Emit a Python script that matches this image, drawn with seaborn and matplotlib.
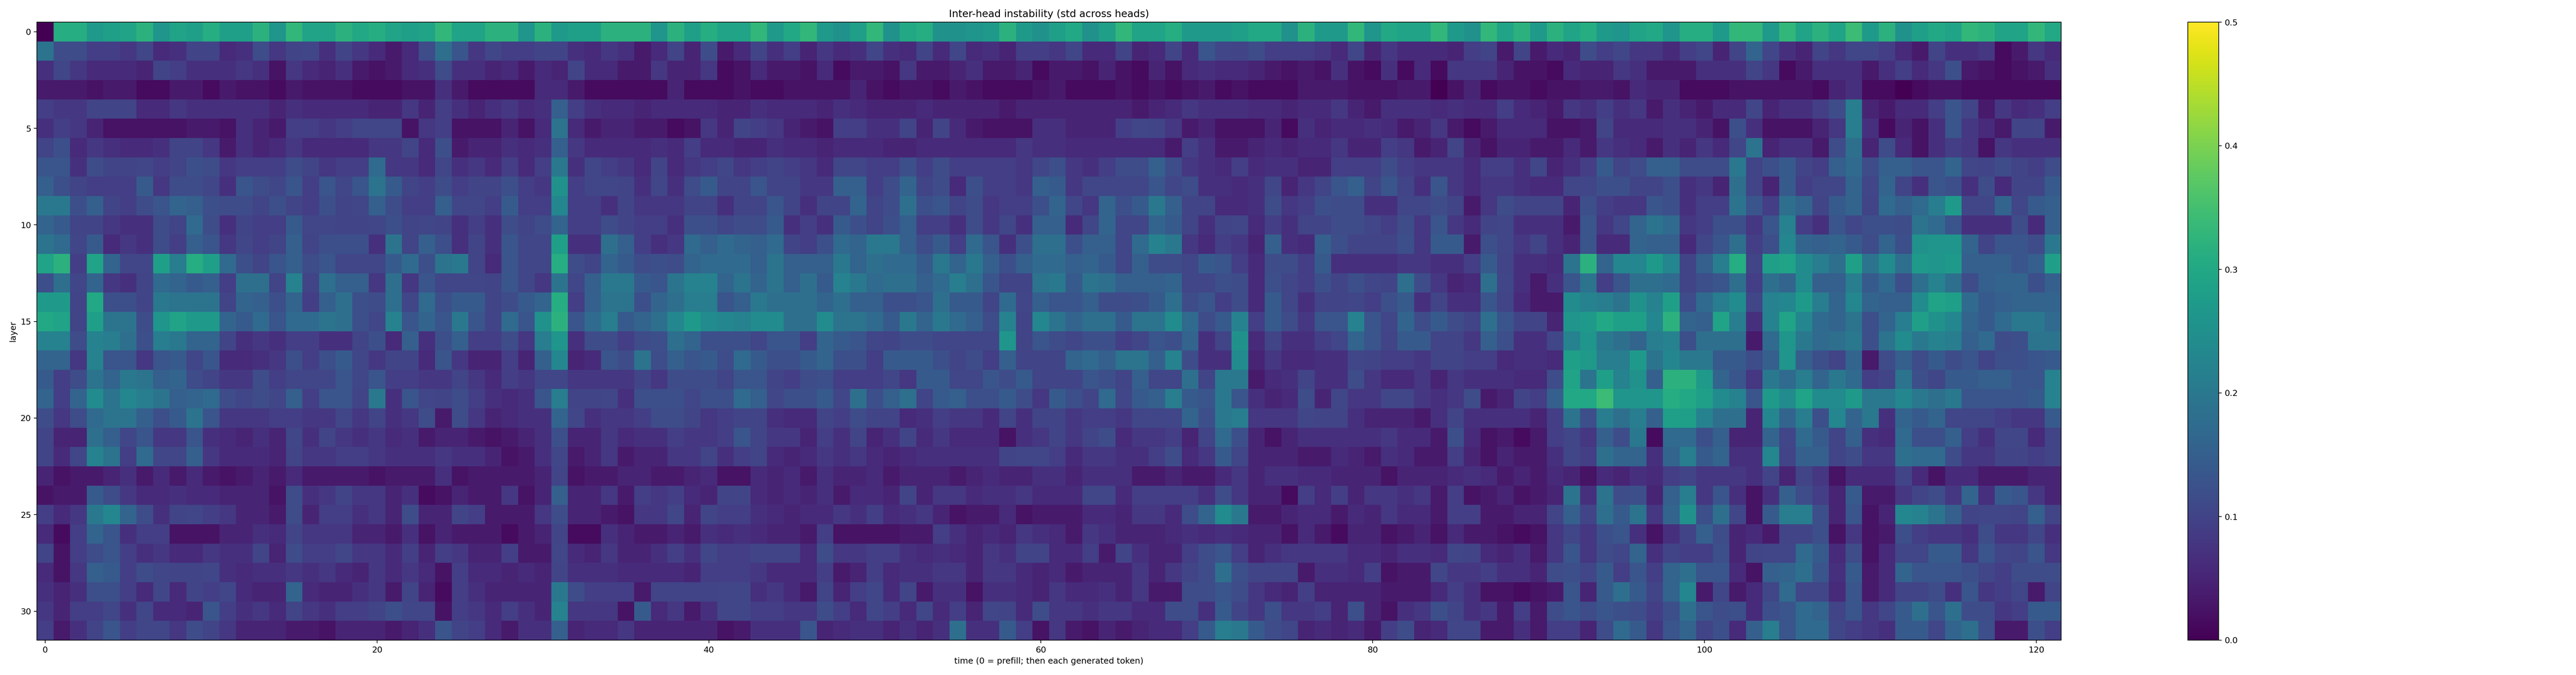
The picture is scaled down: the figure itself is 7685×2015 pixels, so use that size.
import numpy as np
import pandas as pd
import matplotlib
matplotlib.use("Agg")
import matplotlib.pyplot as plt
import seaborn as sns

# inter-head std per layer and time as colour levels
layer_00 = [0,31,31,27,28,29,32,26,29,28,31,28,28,32,26,33,29,29,32,30,31,29,28,29,33,29,29,32,32,26,32,27,28,28,32,32,32,26,32,28,31, 29,29,33,27,30,33,27,25,28,33,25,30,31,25,25,26,27,32,27,25,28,30,25,28,33,29,29,31,27,27,27,28,30,30,25,32,27,27,33,26,30, 29,29,33,27,25,33,29,32,27,32,29,31,27,26,29,30,26,31,31,27,33,33,27,33,29,32,29,34,27,32,25,28,30,29,33,32,29,29,33,30]
layer_01 = [19,11,11,8,8,7,10,5,6,9,9,5,6,11,7,9,10,6,9,7,5,3,5,11,18,13,7,10,8,8,9,9,6,5,7,6,3,5,9,4,11, 3,5,9,6,8,4,7,5,6,10,6,5,9,5,10,5,6,4,8,8,7,10,5,5,9,4,5,9,5,13,10,9,11,8,8,8,7,5,10,4,7, 5,5,5,4,8,9,3,9,3,5,4,11,8,10,7,7,5,8,10,4,9,16,10,6,4,9,7,10,10,8,5,3,9,6,6,7,1,3,7,5]
layer_02 = [6,10,7,5,5,5,4,9,8,6,6,6,7,6,2,7,5,4,6,3,2,3,5,6,11,6,6,4,5,3,5,4,9,5,5,3,3,7,4,4,7, 1,2,5,3,3,2,5,1,3,3,2,7,3,3,4,6,3,3,4,1,3,3,2,4,2,1,4,2,5,6,5,5,4,3,2,3,2,6,2,1,6, 1,5,1,7,7,7,4,2,2,1,5,4,4,7,6,3,3,3,6,6,6,9,7,1,3,6,6,6,3,6,8,5,7,12,3,2,1,2,3,6]
layer_03 = [3,3,3,2,3,3,1,1,3,3,1,3,2,2,1,3,2,2,2,1,1,1,2,2,6,3,1,1,1,1,5,5,3,1,1,1,1,1,4,1,1, 1,2,1,1,2,2,2,2,4,2,1,2,2,1,3,2,1,1,1,2,3,1,1,1,2,1,2,1,2,3,1,2,1,1,1,3,3,3,2,2,2, 3,3,0,2,4,1,2,2,1,2,2,3,3,2,5,4,4,1,1,1,2,2,2,2,2,1,4,6,1,1,0,1,2,2,1,1,1,1,1,1]
layer_04 = [8,7,7,9,9,9,5,5,7,6,6,6,6,6,4,6,5,5,5,5,4,4,7,4,8,6,4,6,7,5,6,15,8,6,5,5,4,5,5,5,5, 4,4,6,5,5,5,4,6,5,4,4,4,5,4,4,4,4,3,4,4,4,4,4,4,4,3,4,5,7,6,6,6,5,5,4,5,5,7,4,3,6, 6,6,5,6,5,5,8,5,4,3,7,6,8,6,7,3,6,4,3,5,5,10,4,6,6,8,11,21,4,3,5,5,8,13,9,3,7,5,6,8]
layer_05 = [6,8,7,4,2,2,2,2,2,3,3,2,6,4,3,8,8,7,8,10,10,10,2,7,8,2,2,2,4,2,5,19,5,3,4,4,3,3,1,2,7, 4,9,8,7,4,3,2,8,8,6,6,9,4,9,5,3,2,2,2,6,6,4,4,4,8,10,9,7,3,4,2,2,2,4,1,6,4,5,5,6,5, 3,4,7,3,1,3,5,5,5,2,2,3,9,5,5,5,6,6,4,2,12,6,2,2,2,4,7,21,6,1,4,2,6,13,7,5,3,9,9,3]
layer_06 = [9,12,5,7,6,5,5,6,9,9,7,3,6,4,5,7,5,5,5,5,7,7,9,5,12,3,4,4,6,5,6,15,7,5,5,5,5,6,5,8,5, 5,4,4,6,5,5,4,5,5,5,4,4,5,5,5,5,5,5,7,6,6,5,5,5,5,5,5,3,8,6,3,3,4,5,4,5,5,7,4,4,8, 7,3,4,9,4,2,4,4,3,3,5,3,7,6,5,3,6,4,7,5,10,19,4,6,6,3,11,18,4,11,5,2,6,8,7,2,7,6,6,6]
layer_07 = [13,13,6,11,9,9,10,8,9,12,11,7,8,8,8,11,9,7,8,8,17,7,7,5,10,6,7,5,8,5,8,20,6,10,8,7,5,9,5,7,8, 10,7,8,9,8,7,5,10,10,8,8,12,8,11,8,8,8,8,7,10,12,7,6,8,11,11,15,11,7,6,5,8,5,6,6,4,4,8,8,8,11, 8,7,7,7,5,8,8,6,10,4,6,8,14,9,11,15,15,11,11,11,20,9,12,14,9,8,15,17,11,15,15,13,13,16,10,9,11,9,8,11]
layer_08 = [15,12,9,8,8,8,14,7,11,11,10,6,13,11,10,13,8,13,10,13,19,14,9,8,11,8,9,9,12,8,7,25,8,10,10,9,6,10,6,11,14, 9,9,13,9,9,7,7,15,15,8,11,16,9,11,5,12,8,8,7,15,14,7,10,10,10,10,13,10,11,6,6,5,6,10,4,7,9,13,15,9,13, 9,6,13,7,5,7,7,6,5,5,10,10,12,12,9,9,12,6,7,4,18,9,4,14,8,10,10,16,10,16,9,6,13,12,6,11,5,9,9,14]
layer_09 = [20,20,12,15,9,8,11,13,16,15,12,11,11,9,12,9,8,12,9,10,15,11,8,8,15,10,10,8,14,8,8,23,8,8,6,9,7,7,7,9,9, 6,9,9,13,9,6,9,9,16,9,11,18,12,13,9,11,7,8,8,12,16,10,7,16,12,14,20,15,9,9,5,5,6,11,7,8,12,11,11,6,6, 10,10,11,9,3,7,11,9,9,9,4,12,8,7,7,13,12,6,8,8,19,13,8,18,16,9,14,16,9,17,15,17,21,27,10,10,16,10,14,15]
layer_10 = [16,14,9,9,7,6,6,11,9,17,11,6,9,8,8,14,10,10,9,9,10,12,9,10,9,6,8,6,11,9,11,16,8,8,11,9,8,8,6,12,12, 10,11,11,14,6,8,6,14,12,9,12,15,8,8,6,11,7,10,6,15,15,5,10,16,10,10,16,14,9,6,9,10,5,8,6,9,9,11,11,10,8, 11,7,13,7,5,9,10,6,6,6,3,13,7,10,16,19,17,7,8,12,12,7,13,22,8,6,13,10,12,12,11,19,17,13,6,6,6,11,5,15]
layer_11 = [19,17,10,14,5,7,6,11,8,15,13,7,10,8,9,15,9,12,12,12,6,19,9,15,12,6,9,6,13,10,10,28,6,6,18,15,8,6,7,17,15, 17,16,15,17,9,8,12,17,16,20,20,15,11,14,8,17,13,6,12,18,18,12,15,15,10,17,22,20,7,5,8,7,4,15,6,5,15,12,9,9,9, 12,7,14,14,3,12,10,7,9,6,4,13,5,5,16,15,15,5,10,13,18,8,12,23,16,15,16,14,11,16,12,25,26,26,16,9,13,13,11,20]
layer_12 = [29,32,8,29,16,10,10,28,21,31,28,17,12,9,13,15,11,13,10,10,10,14,17,12,19,20,9,5,13,10,10,31,11,9,16,14,11,12,11,16,17, 17,17,15,19,15,15,15,20,16,18,17,17,14,20,16,20,15,12,15,17,17,15,16,14,10,15,11,11,10,14,13,8,5,11,11,8,14,6,6,6,6, 7,7,6,6,8,14,9,6,6,5,19,32,16,23,23,27,23,9,15,21,31,9,28,29,24,21,18,28,19,24,18,27,26,27,15,15,15,13,15,28]
layer_13 = [12,18,10,16,7,6,9,17,16,14,15,8,18,18,9,22,9,18,15,15,7,18,7,13,10,10,10,9,13,10,7,19,10,15,20,20,14,13,19,22,22, 16,19,16,19,15,18,14,22,20,17,18,18,15,17,21,18,13,9,9,19,20,14,19,18,15,15,15,16,10,10,12,11,5,12,10,8,12,9,12,10,9, 18,11,7,4,5,18,10,6,3,6,13,19,8,13,18,18,17,9,12,13,18,8,18,16,24,15,15,21,14,17,12,18,22,18,11,15,16,16,12,15]
layer_14 = [27,27,9,30,12,12,9,20,19,19,19,9,16,15,12,16,8,15,18,12,11,18,10,17,12,14,14,9,11,14,16,31,8,15,19,19,12,16,18,21,21, 13,15,20,18,18,18,16,18,15,15,12,12,13,18,14,14,9,17,10,15,13,13,15,11,11,12,14,18,11,13,8,11,5,14,10,6,9,9,10,8,12, 14,6,9,6,6,13,9,5,3,3,24,22,21,19,25,22,28,11,17,21,24,10,22,23,27,21,16,23,16,15,15,24,29,28,17,14,15,16,16,16]
layer_15 = [30,29,9,28,19,19,11,26,29,27,27,16,14,17,13,17,17,19,18,12,10,22,13,16,13,20,13,9,17,13,25,32,13,17,21,14,16,18,23,27,24, 23,22,24,24,18,18,24,19,19,17,14,20,16,20,17,15,11,22,9,23,19,16,18,18,14,19,19,24,17,11,14,22,8,14,11,7,13,13,22,13,10, 16,11,14,11,9,18,13,9,9,4,26,27,30,28,28,23,32,16,15,29,21,6,22,29,23,17,16,19,12,16,21,28,25,23,16,14,17,20,20,17]
layer_16 = [22,22,11,22,21,18,12,21,20,16,16,9,6,7,6,8,8,6,6,9,12,5,15,6,12,15,8,8,11,7,21,26,6,11,11,8,11,12,18,16,12, 12,12,10,13,13,8,16,14,13,10,9,11,11,10,10,10,10,26,9,13,11,10,12,12,8,10,13,12,16,6,9,25,5,9,6,6,8,10,16,13,9, 14,14,9,9,7,15,12,6,6,10,22,26,20,18,16,21,22,12,18,18,18,3,17,26,20,17,18,20,12,19,24,20,22,21,15,17,11,12,19,19]
layer_17 = [16,16,7,22,13,13,7,13,14,10,13,5,5,6,7,12,8,12,14,10,7,9,9,5,13,7,4,4,8,4,15,23,4,5,13,11,19,11,15,13,14, 11,17,14,12,12,14,16,12,12,8,14,14,14,12,9,11,8,15,9,9,9,16,17,15,19,19,15,22,11,6,6,24,4,7,5,5,6,6,10,9,8, 8,7,9,9,8,8,5,6,6,5,28,27,21,21,27,19,23,20,20,14,14,11,15,26,15,12,9,16,3,11,15,11,14,11,13,9,12,12,13,14]
layer_18 = [14,8,11,19,16,20,19,15,16,11,9,7,7,11,8,10,10,10,13,10,13,8,8,7,7,9,7,5,8,7,10,10,7,7,7,7,9,7,11,11,11, 9,13,13,9,8,11,12,8,8,8,10,7,14,14,10,10,13,11,14,9,9,9,13,12,9,15,10,10,18,9,20,20,3,5,6,9,6,6,11,7,5, 5,7,4,7,6,6,6,5,5,11,29,19,28,22,25,15,32,32,27,16,13,7,20,17,21,16,20,17,8,9,19,12,10,14,14,15,15,13,13,22]
layer_19 = [16,8,16,24,19,23,21,19,15,16,17,11,10,11,10,15,8,13,13,9,20,6,13,10,9,11,8,6,5,6,13,21,9,9,10,6,12,12,12,10,12, 12,17,15,10,12,12,14,10,18,12,15,18,9,14,15,12,12,14,11,7,14,12,9,17,10,14,15,21,14,13,20,13,6,4,5,11,4,10,7,7,10, 10,7,6,7,11,3,4,9,8,15,30,30,34,26,26,26,31,30,28,24,22,13,27,24,29,24,24,27,20,20,23,20,18,20,13,13,13,13,14,22]
layer_20 = [11,7,11,17,19,19,15,12,14,19,13,7,7,7,8,8,7,7,10,7,9,6,7,11,3,11,7,4,5,6,6,16,10,6,7,7,8,11,11,9,7, 8,9,9,6,5,5,9,8,11,9,9,5,6,8,7,7,5,9,6,9,9,7,8,8,7,10,10,10,16,12,20,21,7,7,7,10,9,9,6,4,4, 4,3,6,9,6,6,6,6,4,8,19,12,21,18,21,15,28,28,22,18,18,4,23,16,21,12,23,16,20,6,16,14,16,10,10,10,8,7,7,14]
layer_21 = [9,4,4,18,15,10,13,7,7,13,6,5,4,6,4,10,6,9,7,6,7,5,6,3,4,4,3,2,3,4,6,12,4,4,7,5,6,6,8,7,7, 8,13,9,7,7,4,8,6,9,4,6,9,5,7,5,5,5,2,6,7,9,7,9,11,5,7,7,8,4,9,17,12,4,2,4,6,6,6,6,6,7, 5,5,3,12,5,2,3,1,3,8,10,7,15,11,20,1,17,17,12,15,4,4,16,10,17,14,9,15,6,5,17,12,12,15,8,6,10,10,5,9]
layer_22 = [9,5,10,22,19,8,17,10,10,15,7,5,5,5,4,9,7,7,8,8,7,6,6,6,7,6,6,4,2,3,6,10,3,4,7,3,4,4,7,7,9, 6,8,9,5,4,5,7,6,7,5,4,5,6,6,6,6,6,9,10,10,8,5,7,7,6,6,8,11,5,7,14,10,4,4,4,3,3,5,4,3,6, 5,3,3,8,4,2,4,3,3,6,10,8,18,16,16,6,16,21,14,16,6,6,23,9,15,15,9,11,7,7,18,17,17,11,7,7,9,9,8,9]
layer_23 = [4,2,3,3,4,6,3,5,3,5,3,2,3,4,3,5,3,3,3,3,2,3,3,3,6,2,3,3,3,3,4,9,2,3,3,4,4,3,3,4,5, 2,2,5,4,5,3,6,4,4,5,3,4,4,4,3,4,5,4,4,6,6,4,6,6,6,3,3,4,3,3,5,7,4,6,6,5,5,4,4,4,2, 4,4,4,5,6,5,3,4,3,5,4,2,5,4,6,5,8,9,7,7,7,6,9,4,9,7,2,5,5,5,9,5,2,5,5,3,3,3,4,4]
layer_24 = [2,3,3,14,11,7,5,5,6,5,5,4,4,4,2,11,6,7,9,7,7,4,6,1,2,4,3,3,7,2,4,15,4,4,7,3,8,7,8,5,4, 9,9,5,4,5,4,6,3,5,5,4,9,4,7,7,5,6,6,7,5,5,5,10,10,5,8,8,8,8,6,11,7,4,4,1,8,5,8,4,7,7, 6,7,3,8,2,3,4,2,3,4,19,6,19,11,12,4,15,21,7,13,6,2,6,15,11,8,4,14,3,3,7,9,11,7,16,6,14,13,7,4]
layer_25 = [8,5,7,20,23,16,11,6,9,10,8,7,4,4,3,11,4,8,8,6,7,4,11,4,4,9,8,3,3,3,7,11,4,4,3,2,7,7,10,4,9, 8,8,6,5,4,5,5,7,6,8,5,6,7,4,2,3,3,5,2,3,3,3,5,5,4,7,7,5,11,16,24,20,3,3,4,5,5,3,5,4,7, 5,5,3,8,8,3,3,4,4,9,15,9,18,14,19,7,16,25,12,18,10,2,14,21,21,12,4,13,2,4,23,22,19,15,9,10,10,9,15,9]
layer_26 = [5,1,8,16,13,6,8,8,2,2,2,4,4,6,5,9,7,7,7,4,4,3,6,2,4,3,3,3,1,3,4,9,1,1,6,4,3,3,4,3,6, 5,6,5,4,4,3,8,2,2,2,2,3,3,8,6,4,5,4,7,6,5,3,7,6,4,4,4,5,6,5,6,5,4,4,2,5,3,1,4,4,2, 3,4,2,5,3,3,2,1,2,7,10,7,12,13,6,2,6,9,15,11,4,5,3,9,9,12,2,7,2,3,12,8,7,7,6,11,7,7,10,6]
layer_27 = [9,2,8,11,13,8,6,7,5,5,7,6,6,9,4,11,8,8,10,7,7,5,8,4,8,7,4,4,8,3,3,10,5,4,7,4,4,6,8,6,10, 8,8,9,9,9,5,11,7,7,8,8,6,5,6,5,4,7,6,9,9,5,5,8,3,9,6,4,4,8,11,13,8,4,6,7,7,7,7,5,5,4, 6,6,5,10,9,5,4,6,3,7,13,7,11,10,16,6,9,8,8,12,4,9,10,10,17,14,5,11,2,5,10,10,14,14,7,13,10,9,13,7]
layer_28 = [5,2,7,15,14,8,11,10,9,9,10,6,5,6,6,7,6,7,5,4,7,5,7,5,2,8,5,5,4,5,4,9,6,6,6,5,5,5,5,4,8, 8,8,7,5,5,5,8,3,4,8,5,6,6,7,7,4,7,7,5,4,5,3,4,4,4,7,4,7,9,11,18,12,9,9,9,3,6,6,5,8,2, 3,3,10,7,7,8,6,6,4,11,12,10,14,8,13,8,16,18,13,13,5,2,15,16,18,13,6,14,3,5,16,13,13,13,12,10,8,11,11,11]
layer_29 = [6,4,6,12,12,8,5,10,5,9,8,10,5,4,4,16,5,4,4,6,7,3,9,4,1,8,6,4,4,4,4,20,11,8,8,8,3,9,9,9,9, 10,10,6,7,5,3,9,4,8,10,5,9,3,6,6,2,6,6,5,4,7,5,5,6,4,7,3,3,11,11,13,11,7,5,4,8,4,4,4,4,3, 3,3,5,8,6,2,2,1,2,3,13,4,14,18,14,9,16,23,3,10,3,5,10,17,10,10,5,13,3,5,9,9,11,6,13,7,8,10,3,9]
layer_30 = [7,4,8,8,10,6,10,5,5,4,13,8,6,7,5,9,7,6,8,8,9,12,10,10,2,8,7,5,8,6,4,22,7,7,7,2,14,5,7,3,6, 10,10,8,8,7,7,11,8,5,10,8,5,10,5,8,4,10,9,5,11,7,7,6,7,7,5,5,11,11,6,14,9,7,12,7,7,8,4,12,4,2, 6,7,12,9,6,7,3,8,3,11,13,11,13,12,11,8,12,18,13,11,12,5,12,13,17,16,9,13,7,10,14,18,13,18,11,11,7,8,14,14]
layer_31 = [8,3,6,9,13,8,10,10,7,11,9,7,4,4,4,3,3,2,4,4,4,3,4,6,13,9,8,5,3,6,6,15,4,5,5,7,4,4,4,4,4, 2,3,6,6,6,13,4,5,6,6,4,6,4,6,18,6,6,14,8,2,7,3,2,4,3,4,5,5,8,14,21,20,14,11,10,4,5,4,5,3,8, 11,4,5,10,10,3,3,6,3,8,8,4,11,17,14,7,13,16,9,12,5,15,21,13,17,17,10,8,7,6,14,14,10,16,18,12,3,3,12,8]

layers = [layer_00, layer_01, layer_02, layer_03, layer_04, layer_05, layer_06, layer_07,
          layer_08, layer_09, layer_10, layer_11, layer_12, layer_13, layer_14, layer_15,
          layer_16, layer_17, layer_18, layer_19, layer_20, layer_21, layer_22, layer_23,
          layer_24, layer_25, layer_26, layer_27, layer_28, layer_29, layer_30, layer_31]
# what each reading level means on the colour bar, in hundredths
level_value = [0, 1.5, 2.5, 3.5, 5, 6, 7, 8, 9, 10, 10.5, 11.5, 12, 13, 14, 15, 16, 17, 18, 19, 20,
               21, 22, 23, 24, 25, 26, 27, 28, 29, 30, 31, 32, 33, 34]
x_ticks = [0, 20, 40, 60, 80, 100, 120]
y_ticks = [0, 5, 10, 15, 20, 25, 30]
cbar_ticks = [0.0, 0.1, 0.2, 0.3, 0.4, 0.5]
title = "Inter-head instability (std across heads)"
xlabel = "time (0 = prefill; then each generated token)"
ylabel = "layer"

data = pd.DataFrame(np.array(level_value)[np.array(layers)] / 100.0)

W, H = 7685, 2015
DPI = 180
fig = plt.figure(figsize=(W / DPI, H / DPI), dpi=DPI)
ax = fig.add_axes([110 / W, 1 - 1911 / H, (6149 - 110) / W, (1911 - 66) / H])
cax = fig.add_axes([6527 / W, 1 - 1911 / H, (6619 - 6527) / W, (1911 - 66) / H])

sns.heatmap(data, cmap="viridis", vmin=0, vmax=0.5, ax=ax, cbar_ax=cax,
            xticklabels=False, yticklabels=False, rasterized=True)

ax.set_xticks([t + 0.5 for t in x_ticks])
ax.set_xticklabels([str(t) for t in x_ticks], rotation=0, fontsize=10)
ax.set_yticks([t + 0.5 for t in y_ticks])
ax.set_yticklabels([str(t) for t in y_ticks], rotation=0, fontsize=10)
ax.tick_params(axis="both", length=3.5, width=0.8)
ax.set_xlabel(xlabel, fontsize=10)
ax.set_ylabel(ylabel, fontsize=10)
ax.set_title(title, fontsize=12)
for s in ax.spines.values():
    s.set_visible(True)
    s.set_linewidth(0.8)
    s.set_color("black")

cbar = ax.collections[0].colorbar
cbar.set_ticks(cbar_ticks)
cbar.set_ticklabels([f"{t:.1f}" for t in cbar_ticks], fontsize=10)
cax.tick_params(axis="y", length=3.5, width=0.8)
cbar.outline.set_visible(True)
cbar.outline.set_linewidth(0.8)
cbar.outline.set_edgecolor("black")

fig.savefig("out.png", dpi=DPI)
